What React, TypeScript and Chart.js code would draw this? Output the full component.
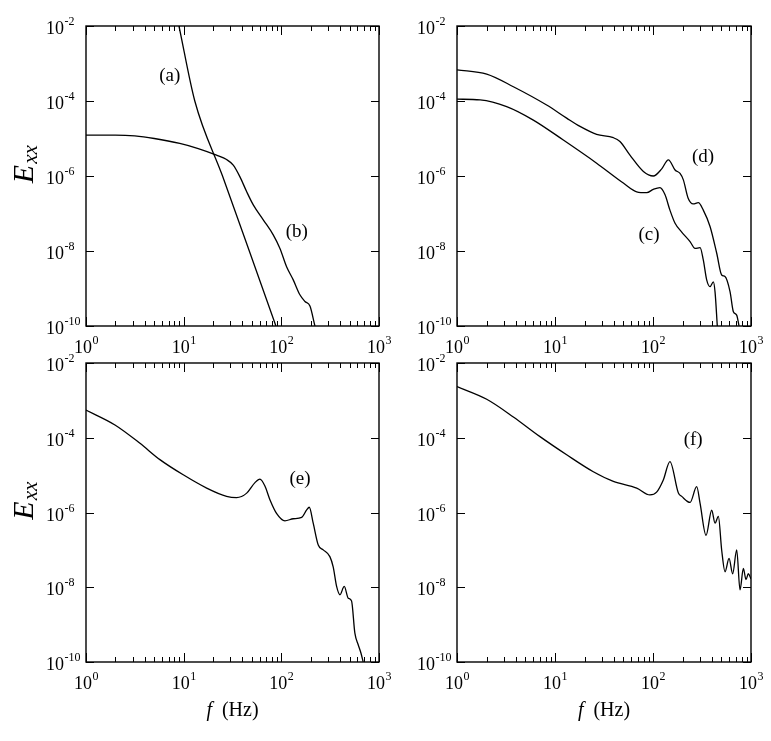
import { useEffect, useRef } from 'react';
import { Chart, registerables } from 'chart.js';
Chart.register(...registerables);

const W = 771;
const H = 741;
const FONT = '"Liberation Serif", "Times New Roman", Times, serif';

// axis ticks
const xTickValues = [1, 10, 100, 1000];
const xTickExponents = ['0', '1', '2', '3'];
const xMinorMultipliers = [2, 3, 4, 5, 6, 7, 8, 9];
const yTickValues = [1e-2, 1e-4, 1e-6, 1e-8, 1e-10];
const yTickExponents = ['-2', '-4', '-6', '-8', '-10'];

// (a)
const curveAFreq = [8.95, 13.0, 25.0, 47, 88];
const curveAE = [1e-2, 1e-4, 1e-6, 1e-8, 1e-10];
// (b)
const curveBFreq = [1, 2, 3.16, 5.0, 9.12, 14.1, 21.7, 27.5, 32.2, 37.7, 44.2, 51.6, 65.3, 82.6, 96.8, 113.2, 132.4, 154.9, 174.6, 196.3, 220.8];
const curveBE = [1.23e-5, 1.23e-5, 1.17e-5, 1.0e-5, 7.4e-6, 5.4e-6, 3.6e-6, 2.75e-6, 1.95e-6, 9.5e-7, 3.8e-7, 1.7e-7, 6.8e-8, 2.7e-8, 1.17e-8, 3.8e-9, 1.7e-9, 6.8e-10, 4.5e-10, 3.4e-10, 1e-10];
// (c)
const curveCFreq = [1, 1.72, 3.21, 6.01, 12.16, 26.6, 49.8, 68.2, 86.3, 100.7, 117.8, 132.4, 148.9, 167.9, 196.3, 238.8, 268.5, 302, 326, 353, 382, 413, 430, 453];
const curveCE = [1.12e-4, 1.07e-4, 7.1e-5, 3.1e-5, 9.1e-6, 2.2e-6, 6.5e-7, 3.8e-7, 3.6e-7, 4.4e-7, 4.9e-7, 3.2e-7, 1.23e-7, 5.5e-8, 3.2e-8, 1.78e-8, 1.17e-8, 1.23e-8, 5.8e-9, 1.7e-9, 1.12e-9, 1.5e-9, 7.9e-10, 1e-10];
// (d)
const curveDFreq = [1, 2.01, 3.76, 8.22, 13.15, 18.0, 26.6, 39.4, 46.0, 58.2, 79.8, 100.7, 122.7, 143.5, 167.9, 188.8, 204, 229, 257, 290, 326, 382, 447, 502, 543, 611, 661, 714, 755];
const curveDE = [6.8e-4, 5.2e-4, 2.4e-4, 7.8e-5, 3.5e-5, 2.1e-5, 1.29e-5, 1.05e-5, 8.3e-6, 3.6e-6, 1.32e-6, 1.0e-6, 1.55e-6, 2.7e-6, 1.45e-6, 1.17e-6, 7.9e-7, 2.5e-7, 1.8e-7, 1.95e-7, 1.23e-7, 4.5e-8, 8.7e-9, 2.3e-9, 2.1e-9, 8.3e-10, 2.4e-10, 1.95e-10, 1e-10];
// (e)
const curveEFreq = [1, 1.98, 3.57, 5.71, 9.9, 17.2, 27.5, 34.8, 44.2, 53.7, 60.4, 67.9, 76.4, 89.3, 108.9, 132.4, 161.4, 181.6, 193.2, 212.3, 238.8, 268.5, 314, 339.6, 368.1, 398.1, 440.6, 484.2, 523.6, 566.2, 612.4, 653.1, 688.7];
const curveEE = [5.5e-4, 2.2e-4, 7.1e-5, 2.6e-5, 1.02e-5, 4.5e-6, 2.7e-6, 2.5e-6, 3.3e-6, 6.3e-6, 7.8e-6, 5.1e-6, 2.2e-6, 9.5e-7, 6.0e-7, 6.8e-7, 7.4e-7, 1.17e-6, 1.38e-6, 5.1e-7, 1.35e-7, 1.0e-7, 6.6e-8, 3.5e-8, 1.05e-8, 6.3e-9, 1.05e-8, 5.1e-9, 4.3e-9, 5.9e-10, 2.9e-10, 1.74e-10, 1e-10];
// (f)
const curveFFreq = [1, 2.01, 3.76, 7.03, 13.15, 24.6, 39.4, 68.2, 93.1, 108.9, 127.4, 148.9, 181.6, 196.3, 238.8, 279.3, 302, 347.5, 397.2, 429.5, 464.5, 502.3, 543.3, 597, 650.1, 714.5, 772.7, 835.6, 889.2, 939.7, 1000];
const curveFE = [2.34e-3, 1.07e-3, 3.6e-4, 1.07e-4, 3.5e-5, 1.23e-5, 6.8e-6, 4.5e-6, 2.95e-6, 3.5e-6, 7.4e-6, 2.3e-5, 3.3e-6, 2.7e-6, 1.86e-6, 4.9e-6, 1.78e-6, 2.45e-7, 1.15e-6, 5.2e-7, 7.9e-7, 9.8e-8, 2.6e-8, 5.9e-8, 2.3e-8, 1.0e-7, 8.5e-9, 3.2e-8, 1.6e-8, 2.3e-8, 1.66e-8];

type Series = { f: number[]; e: number[] };
type Label = { text: string; f: number; e: number };
type PanelCfg = {
  area: { left: number; top: number; right: number; bottom: number };
  series: Series[];
  labels: Label[];
  yTitle: boolean;
  xTitle: boolean;
};

const panels: PanelCfg[] = [
  {
    area: { left: 86, top: 26, right: 379, bottom: 326 },
    series: [{ f: curveAFreq, e: curveAE }, { f: curveBFreq, e: curveBE }],
    labels: [{ text: '(a)', f: 7.2, e: 4.7e-4 }, { text: '(b)', f: 144, e: 3.2e-8 }],
    yTitle: true,
    xTitle: false,
  },
  {
    area: { left: 457, top: 26, right: 751, bottom: 326 },
    series: [{ f: curveCFreq, e: curveCE }, { f: curveDFreq, e: curveDE }],
    labels: [{ text: '(d)', f: 324, e: 3.2e-6 }, { text: '(c)', f: 91, e: 2.7e-8 }],
    yTitle: false,
    xTitle: false,
  },
  {
    area: { left: 86, top: 363, right: 379, bottom: 662 },
    series: [{ f: curveEFreq, e: curveEE }],
    labels: [{ text: '(e)', f: 155, e: 7.9e-6 }],
    yTitle: true,
    xTitle: true,
  },
  {
    area: { left: 457, top: 363, right: 751, bottom: 662 },
    series: [{ f: curveFFreq, e: curveFE }],
    labels: [{ text: '(f)', f: 257, e: 8.7e-5 }],
    yTitle: false,
    xTitle: true,
  },
];

function drawPow(ctx: CanvasRenderingContext2D, x: number, y: number, exp: string, center: boolean) {
  const baseFont = `18px ${FONT}`;
  const expFont = `12px ${FONT}`;
  ctx.font = baseFont;
  const wb = ctx.measureText('10').width;
  ctx.font = expFont;
  const we = ctx.measureText(exp).width;
  const start = center ? x - (wb + we) / 2 : x;
  ctx.textAlign = 'left';
  ctx.textBaseline = 'alphabetic';
  ctx.font = baseFont;
  ctx.fillText('10', start, y);
  ctx.font = expFont;
  ctx.fillText(exp, start + wb + 0.5, y - 9);
}

function makeFramePlugin(cfg: PanelCfg) {
  return {
    id: 'frame',
    afterDraw(chart: any) {
      const ctx: CanvasRenderingContext2D = chart.ctx;
      const a = chart.chartArea;
      const xs = chart.scales.x;
      const ys = chart.scales.y;
      ctx.save();
      ctx.strokeStyle = '#000';
      ctx.fillStyle = '#000';
      ctx.lineWidth = 1.4;
      ctx.strokeRect(a.left, a.top, a.right - a.left, a.bottom - a.top);
      ctx.beginPath();
      // x ticks
      xTickValues.forEach((dec, i) => {
        const px = Math.round(xs.getPixelForValue(dec)) + 0.5;
        ctx.moveTo(px, a.bottom);
        ctx.lineTo(px, a.bottom - 9);
        ctx.moveTo(px, a.top);
        ctx.lineTo(px, a.top + 9);
        if (i < xTickValues.length - 1) {
          xMinorMultipliers.forEach((m) => {
            const mx = Math.round(xs.getPixelForValue(dec * m)) + 0.5;
            ctx.moveTo(mx, a.bottom);
            ctx.lineTo(mx, a.bottom - 5);
            ctx.moveTo(mx, a.top);
            ctx.lineTo(mx, a.top + 5);
          });
        }
      });
      // y ticks
      yTickValues.forEach((v) => {
        const py = Math.round(ys.getPixelForValue(v)) + 0.5;
        ctx.moveTo(a.left, py);
        ctx.lineTo(a.left + 8, py);
        ctx.moveTo(a.right, py);
        ctx.lineTo(a.right - 8, py);
      });
      ctx.lineWidth = 1;
      ctx.stroke();

      // tick labels
      xTickValues.forEach((v, i) => {
        drawPow(ctx, xs.getPixelForValue(v), a.bottom + 27, xTickExponents[i], true);
      });
      yTickValues.forEach((v, i) => {
        drawPow(ctx, a.left - 40, ys.getPixelForValue(v) + 8, yTickExponents[i], false);
      });

      // curve labels
      ctx.font = `19px ${FONT}`;
      ctx.textAlign = 'center';
      ctx.textBaseline = 'middle';
      cfg.labels.forEach((l) => {
        ctx.fillText(l.text, xs.getPixelForValue(l.f), ys.getPixelForValue(l.e));
      });

      // y title
      if (cfg.yTitle) {
        const cy = (a.top + a.bottom) / 2;
        ctx.save();
        ctx.translate(33, cy);
        ctx.rotate(-Math.PI / 2);
        ctx.textAlign = 'left';
        ctx.textBaseline = 'alphabetic';
        ctx.font = `italic 30px ${FONT}`;
        const wE = ctx.measureText('E').width;
        ctx.fillText('E', -wE / 2 + 2, 0);
        ctx.font = `italic 21px ${FONT}`;
        ctx.fillText('xx', wE / 2 + 3, 4);
        ctx.restore();
      }
      // x title
      if (cfg.xTitle) {
        const cx = (a.left + a.right) / 2;
        ctx.textAlign = 'left';
        ctx.textBaseline = 'alphabetic';
        ctx.font = `italic 20px ${FONT}`;
        const wf = ctx.measureText('f').width;
        ctx.font = `20px ${FONT}`;
        const wr = ctx.measureText('  (Hz)').width;
        const start = cx - (wf + wr) / 2;
        ctx.font = `italic 20px ${FONT}`;
        ctx.fillText('f', start, 716);
        ctx.font = `20px ${FONT}`;
        ctx.fillText('  (Hz)', start + wf, 716);
      }
      ctx.restore();
    },
  };
}

function Panel({ cfg }: { cfg: PanelCfg }) {
  const ref = useRef<HTMLCanvasElement | null>(null);
  useEffect(() => {
    if (!ref.current) return;
    const chart = new Chart(ref.current, {
      type: 'line',
      data: {
        datasets: cfg.series.map((s) => ({
          data: s.f.map((f, i) => ({ x: f, y: s.e[i] })),
          borderColor: '#000',
          borderWidth: 1.3,
          pointRadius: 0,
          fill: false,
          cubicInterpolationMode: 'monotone' as const,
        })),
      },
      options: {
        responsive: false,
        animation: false,
        events: [],
        layout: {
          padding: {
            left: cfg.area.left,
            top: cfg.area.top,
            right: W - cfg.area.right,
            bottom: H - cfg.area.bottom,
          },
        },
        plugins: { legend: { display: false }, tooltip: { enabled: false } },
        scales: {
          x: { type: 'logarithmic', min: 1, max: 1000, display: false },
          y: { type: 'logarithmic', min: 1e-10, max: 1e-2, display: false },
        },
      },
      plugins: [makeFramePlugin(cfg)],
    } as any);
    return () => chart.destroy();
  }, [cfg]);
  return (
    <canvas
      ref={ref}
      width={W}
      height={H}
      style={{ position: 'absolute', left: 0, top: 0, width: W, height: H }}
    />
  );
}

export default function App() {
  return (
    <div style={{ position: 'absolute', left: 0, top: 0, width: W, height: H, background: '#fff' }}>
      {panels.map((p, i) => (
        <Panel key={i} cfg={p} />
      ))}
    </div>
  );
}
